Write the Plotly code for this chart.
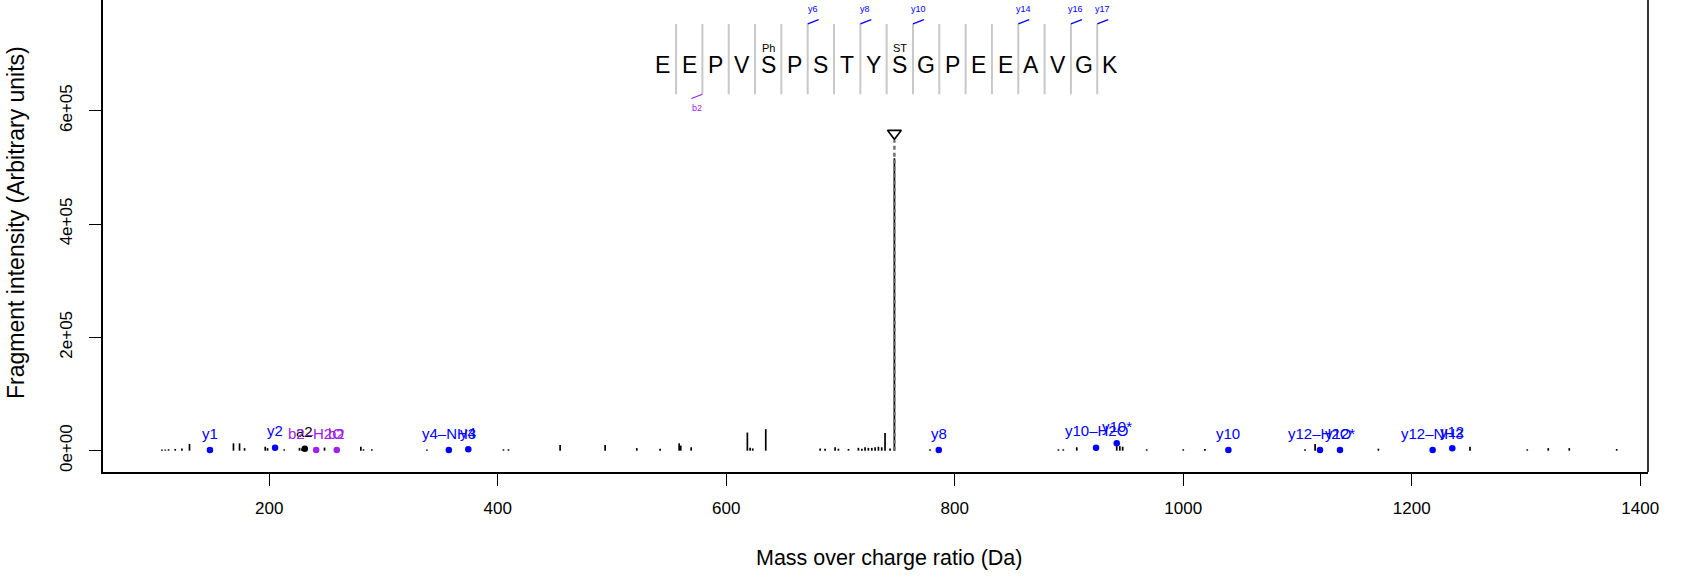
import plotly.graph_objects as go

# unannotated peaks (m/z, intensity)
peak_mz = [106.1, 109.0, 111.9, 117.7, 123.6, 130.2, 168.7, 174.0, 178.4, 196.5,
           198.5, 213.1, 226.5, 228.6, 248.4, 280.2, 282.5, 289.8, 338.0, 375.9,
           405.0, 409.4, 454.6, 494.0, 521.7, 542.1, 558.8, 560.2, 569.3, 618.5,
           620.9, 623.2, 634.6, 682.2, 686.5, 695.3, 698.2, 707.0, 715.7, 718.7,
           721.5, 724.4, 727.4, 730.3, 733.2, 736.1, 739.0, 743.4, 747.2, 778.4,
           890.7, 895.0, 906.8, 944.5, 947.0, 968.0, 1000.0, 1019.0, 1106.6, 1115.4,
           1170.8, 1251.0, 1301.1, 1319.5, 1337.9, 1379.4]
peak_int = [2000, 2000, 2500, 3000, 4000, 12000, 13000, 13000, 4500, 7000,
            4500, 2500, 5000, 4000, 5500, 7000, 2500, 2500, 2000, 3000,
            2500, 2500, 10000, 10000, 4500, 3500, 13000, 9000, 6000, 32000,
            5000, 4000, 38000, 4000, 3500, 6000, 3500, 3000, 5000, 3500,
            6000, 5000, 5000, 6000, 7000, 6000, 31000, 4000, 516000, 2500,
            2500, 2500, 6000, 8000, 7000, 2500, 2500, 3000, 2500, 12000,
            3500, 7000, 2500, 4500, 4500, 3000]

# annotated fragment ions
ion_mz = [148.1, 205.1, 231.1, 241.1, 259.1, 357.2, 374.2, 786.0, 923.7, 941.8,
          1039.5, 1119.7, 1137.2, 1218.3, 1235.5]
ion_int = [1200, 5300, 3500, 1200, 1200, 1200, 2500, 1200, 5300, 13000,
           1200, 1200, 1200, 1200, 4200]
ion_lab = ["y1", "y2", "a2", "b2-H2O", "b2", "y4-NH3", "y4", "y8", "y10-H2O", "y10*",
           "y10", "y12-H2O", "y12*", "y12-NH3", "y12"]
ion_col = ["blue", "blue", "black", "purple", "purple", "blue", "blue", "blue", "blue", "blue",
           "blue", "blue", "blue", "blue", "blue"]

# precursor
prec_mz = 747.2
prec_int = 560000

# peptide sequence
sequence = "EEPVSPSTYSGPEEAVGK"
mods = {5: "Ph", 10: "ST"}
y_cuts = [6, 8, 10, 14, 16, 17]
y_cut_lab = ["y6", "y8", "y10", "y14", "y16", "y17"]
b_cuts = [2]
b_cut_lab = ["b2"]

ytick_vals = [0, 200000, 400000, 600000]
ytick_text = ["0e+00", "2e+05", "4e+05", "6e+05"]
xtick_vals = [200, 400, 600, 800, 1000, 1200, 1400]

colmap = {"blue": "#0000FF", "purple": "#A020F0", "black": "#000000"}
FONT = "Liberation Sans, Arial, Helvetica, sans-serif"

fig = go.Figure()

# stick spectrum
sx, sy = [], []
for m, h in list(zip(peak_mz, peak_int)) + list(zip(ion_mz, ion_int)):
  sx += [m, m, None]
  sy += [0, h, None]
fig.add_trace(go.Scatter(x=sx, y=sy, mode="lines",
                         line=dict(color="black", width=1.7), hoverinfo="skip"))

# precursor dashed line and triangle
fig.add_trace(go.Scatter(x=[prec_mz, prec_mz], y=[0, prec_int - 12000], mode="lines",
                         line=dict(color="#6e6e6e", width=2.4, dash="4px,3px"), hoverinfo="skip"))
fig.add_trace(go.Scatter(x=[prec_mz], y=[prec_int], mode="markers",
                         marker=dict(symbol="triangle-down-open", size=12,
                                     color="black", line=dict(width=1.6, color="black"))))

# ion dots
fig.add_trace(go.Scatter(x=ion_mz, y=ion_int, mode="markers",
                         marker=dict(size=6.5, color=[colmap[c] for c in ion_col]),
                         text=ion_lab))
for m, h, lab, c in zip(ion_mz, ion_int, ion_lab, ion_col):
  fig.add_annotation(x=m, y=h, text=lab.replace("-", "\u2013"), showarrow=False,
                     yanchor="middle", yshift=17,
                     font=dict(size=15, color=colmap[c], family=FONT))

# sequence panel (in data coordinates)
seq_first_cut = 556.1
seq_step = 23.04
y_letter = 681000
y_mod = 711000
y_sep_top = 753000
y_sep_bot = 629000

for k in range(1, len(sequence)):
  xs = seq_first_cut + (k - 1) * seq_step
  fig.add_shape(type="line", x0=xs, x1=xs, y0=y_sep_bot, y1=y_sep_top,
                line=dict(color="#c8c8c8", width=2))

for i, aa in enumerate(sequence, start=1):
  xl = seq_first_cut - seq_step / 2 + (i - 1) * seq_step
  fig.add_annotation(x=xl, y=y_letter, text=aa, showarrow=False, yanchor="middle",
                     font=dict(size=23, color="black", family=FONT))
  if i in mods:
    fig.add_annotation(x=xl, y=y_mod, text=mods[i], showarrow=False, yanchor="middle",
                       font=dict(size=11, color="black", family=FONT))

for k, lab in zip(y_cuts, y_cut_lab):
  xs = seq_first_cut + (k - 1) * seq_step
  fig.add_shape(type="line", x0=xs, x1=xs + 9.6, y0=y_sep_top, y1=y_sep_top + 7500,
                line=dict(color="#0000FF", width=1.3))
  fig.add_annotation(x=xs + 4.4, y=779000, text=lab, showarrow=False, yanchor="middle",
                     font=dict(size=9, color="#0000FF", family=FONT))

for k, lab in zip(b_cuts, b_cut_lab):
  xs = seq_first_cut + (k - 1) * seq_step
  fig.add_shape(type="line", x0=xs, x1=xs - 9.6, y0=y_sep_bot, y1=y_sep_bot - 7500,
                line=dict(color="#A020F0", width=1.3))
  fig.add_annotation(x=xs - 5, y=604000, text=lab, showarrow=False, yanchor="middle",
                     font=dict(size=9, color="#A020F0", family=FONT))

# right border of the box (top is cut off)
fig.add_shape(type="line", xref="paper", yref="paper", x0=1, x1=1, y0=0, y1=1,
              line=dict(color="black", width=1.6))

# axis titles
fig.add_annotation(xref="paper", yref="paper", x=0.5, y=0, yanchor="middle",
                   xshift=13, yshift=-86,
                   text="Mass over charge ratio (Da)", showarrow=False,
                   font=dict(size=21.5, color="black", family=FONT))
fig.add_annotation(xref="paper", yref="paper", x=0, y=0.5, xanchor="center",
                   xshift=-87, yshift=13,
                   textangle=-90, text="Fragment intensity (Arbitrary units)", showarrow=False,
                   font=dict(size=23, color="black", family=FONT))

fig.update_layout(
  width=1685, height=577,
  margin=dict(l=103, r=37, t=0, b=105),
  plot_bgcolor="white", paper_bgcolor="white",
  showlegend=False,
  font=dict(family=FONT, color="black"),
  xaxis=dict(range=[54.5, 1406.8], showgrid=False, zeroline=False,
             showline=True, linecolor="black", linewidth=1.6,
             ticks="outside", ticklen=12, tickwidth=1.4, tickcolor="black",
             tickvals=xtick_vals, tickfont=dict(size=17), ticklabelstandoff=8),
  yaxis=dict(range=[-37600, 795300], showgrid=False, zeroline=False,
             showline=True, linecolor="black", linewidth=1.6,
             ticks="outside", ticklen=12, tickwidth=1.4, tickcolor="black",
             tickvals=ytick_vals, ticktext=ytick_text, tickangle=-90,
             tickfont=dict(size=17), ticklabelstandoff=10),
)

# drop the default page margin so the chart sits at the window corner
fig.write_html("out.html", config={"displayModeBar": False},
               post_script="document.body.style.margin='0';")
